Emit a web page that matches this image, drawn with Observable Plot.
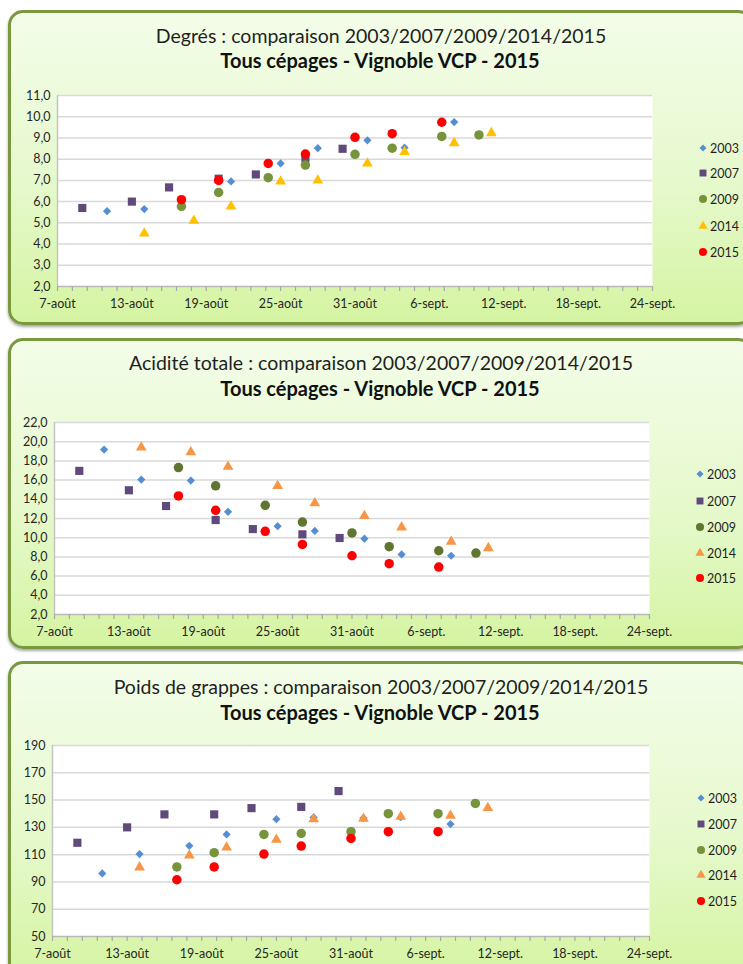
<!DOCTYPE html>
<html>
<head>
<meta charset="utf-8">
<script src="https://cdn.jsdelivr.net/npm/d3@7"></script>
<script src="https://cdn.jsdelivr.net/npm/@observablehq/plot@0.6"></script>
<style>
  html, body { margin: 0; padding: 0; }
  body { width: 743px; height: 964px; overflow: hidden; position: relative; background: #ffffff; font-family: Lato, "Open Sans", sans-serif; }
  .panel { position: absolute; left: 8px; width: 745px; box-sizing: border-box; border: 3px solid #7a983d; border-radius: 15px;
           background: linear-gradient(to bottom, #f3fde9 0%, #e6f9cc 55%, #d5f4a2 100%); box-shadow: 0 2px 3px rgba(0,0,0,0.35); }
  svg.abs { position: absolute; left: 0; }
</style>
</head>
<body>
<div class="panel" style="top:10px;height:315px"></div>
<div class="panel" style="top:338px;height:311px"></div>
<div class="panel" style="top:661px;height:320px"></div>
<script>
// ---------- data ----------
const years = ["2003", "2007", "2009", "2014", "2015"];

const dates2003 = ["08-11","08-14","08-18","08-21","08-25","08-28","09-01","09-04","09-08"];
const dates2007 = ["08-09","08-13","08-16","08-20","08-23","08-27","08-30"];
const dates2009 = ["08-17","08-20","08-24","08-27","08-31","09-03","09-07","09-10"];
const dates2014 = ["08-14","08-18","08-21","08-25","08-28","09-01","09-04","09-08","09-11"];
const dates2015 = ["08-17","08-20","08-24","08-27","08-31","09-03","09-07"];

// Degrés
const degres2003 = [5.55, 5.65, null, 6.95, 7.8, 8.52, 8.89, 8.54, 9.75];
const degres2007 = [5.7, 6.0, 6.67, 7.08, 7.28, 8.05, 8.49];
const degres2009 = [5.77, 6.43, 7.13, 7.72, 8.23, 8.52, 9.07, 9.14];
const degres2014 = [4.5, 5.1, 5.77, 6.95, 7.0, 7.8, 8.34, 8.76, 9.23];
const degres2015 = [6.09, 7.0, 7.8, 8.24, 9.03, 9.2, 9.74];

// Acidité totale
const acidite2003 = [19.18, 16.05, 15.95, 12.7, 11.2, 10.7, 9.9, 8.26, 8.12];
const acidite2007 = [16.96, 14.94, 13.3, 11.84, 10.9, 10.35, 9.97];
const acidite2009 = [17.3, 15.4, 13.37, 11.63, 10.5, 9.06, 8.64, 8.4];
const acidite2014 = [19.4, 18.9, 17.4, 15.4, 13.6, 12.26, 11.08, 9.58, 8.92];
const acidite2015 = [14.35, 12.85, 10.66, 9.3, 8.12, 7.29, 6.94];

// Poids de grappes
const poids2003 = [96.2, 110.4, 116.5, 124.8, 136, 137.3, 136.8, 137.5, 132.4];
const poids2007 = [118.7, 130, 139.5, 139.5, 144.1, 145, 156.6];
const poids2009 = [101, 111.4, 124.8, 125.5, 126.8, 140, 140, 147.5];
const poids2014 = [100.7, 109.4, 115.3, 121, 136, 136.3, 137.8, 138.6, 144.2];
const poids2015 = [91.6, 101, 110.4, 116.3, 121.9, 126.8, 126.8];

// tick labels
const xTickLabels = ["7-août","13-août","19-août","25-août","31-août","6-sept.","12-sept.","18-sept.","24-sept."];
const y1Ticks = [2,3,4,5,6,7,8,9,10,11];
const y1Labels = ["2,0","3,0","4,0","5,0","6,0","7,0","8,0","9,0","10,0","11,0"];
const y2Ticks = [2,4,6,8,10,12,14,16,18,20,22];
const y2Labels = ["2,0","4,0","6,0","8,0","10,0","12,0","14,0","16,0","18,0","20,0","22,0"];
const y3Ticks = [50,70,90,110,130,150,170,190];
const y3Labels = ["50","70","90","110","130","150","170","190"];

const title1 = "Degrés : comparaison 2003/2007/2009/2014/2015";
const title2 = "Acidité totale : comparaison 2003/2007/2009/2014/2015";
const title3 = "Poids de grappes : comparaison 2003/2007/2009/2014/2015";
const subtitle = "Tous cépages - Vignoble VCP - 2015";

// ---------- helpers ----------
const DAY = 86400000;
const xStart = new Date("2015-08-07T00:00:00Z");
const xEnd = new Date("2015-09-24T00:00:00Z");
const majorTicks = xTickLabels.map((_, i) => new Date(+xStart + i * 6 * DAY));
const minorTicks = d3.range(41).map(i => new Date(+xStart + i * 1.2 * DAY));
const xLabelMap = new Map(majorTicks.map((d, i) => [+d, xTickLabels[i]]));

const datesByYear = {"2003": dates2003, "2007": dates2007, "2009": dates2009, "2014": dates2014, "2015": dates2015};
function series(year, values) {
  return datesByYear[year].map((d, i) => ({date: new Date("2015-" + d + "T00:00:00Z"), value: values[i]}))
    .filter(p => p.value != null);
}

const symbols = {"2003": "diamond2", "2007": "square", "2009": "circle", "2014": "triangle", "2015": "circle"};
const radii = {"2003": 3.7, "2007": 4.6, "2009": 4.75, "2014": 4.0, "2015": 4.75};

function makeChart(cfg) {
  const yLabelMap = new Map(cfg.yTicks.map((d, i) => [d, cfg.yLabels[i]]));
  const ymin = cfg.yTicks[0], ymax = cfg.yTicks[cfg.yTicks.length - 1];
  const marks = [
    Plot.frame({fill: "white", stroke: null}),
    Plot.gridY(cfg.yTicks.slice(1), {stroke: "#d9d9d9", strokeOpacity: 1, strokeWidth: 1.5}),
    Plot.ruleX([xStart], {stroke: "#c4c4c4", strokeWidth: 1.5}),
    Plot.ruleY([ymin], {stroke: "#b8b8b8", strokeWidth: 1.5}),
    Plot.axisX(minorTicks, {tickSize: 5, tickFormat: () => "", stroke: "#a8a8a8", strokeWidth: 1.2}),
    Plot.axisX(majorTicks, {tickSize: 0, tickPadding: 13, tickFormat: d => xLabelMap.get(+d), fill: "#262626"}),
    Plot.axisY(cfg.yTicks, {tickSize: 0, tickPadding: 7, tickFormat: d => yLabelMap.get(d), fill: "#262626"})
  ];
  years.forEach(y => {
    marks.push(Plot.dot(series(y, cfg.values[y]), {
      x: "date", y: "value", symbol: symbols[y], r: radii[y], fill: cfg.colors[y], stroke: null
    }));
  });
  const svg = Plot.plot({
    width: 743, height: cfg.height,
    marginLeft: cfg.marginLeft, marginRight: 743 - cfg.plotRight,
    marginTop: cfg.marginTop, marginBottom: cfg.height - cfg.marginTop - cfg.plotH,
    style: {background: "transparent", fontFamily: "Lato, sans-serif", fontSize: "12.5px", color: "#262626", overflow: "visible"},
    x: {type: "utc", domain: [xStart, xEnd], label: null},
    y: {domain: [ymin, ymax], label: null},
    marks
  });
  svg.classList.add("abs");
  svg.style.top = cfg.top + "px";
  svg.style.position = "absolute";
  svg.style.left = "0px";
  document.body.appendChild(svg);
}

const c1 = {"2003": "#558ed5", "2007": "#604a7b", "2009": "#77933c", "2014": "#ffc000", "2015": "#ff0000"};
const c2 = {"2003": "#558ed5", "2007": "#604a7b", "2009": "#5f7530", "2014": "#f79646", "2015": "#ff0000"};
const c3 = {"2003": "#558ed5", "2007": "#604a7b", "2009": "#77933c", "2014": "#f79646", "2015": "#ff0000"};

makeChart({top: 75, height: 251, marginTop: 20, plotH: 191, marginLeft: 57, plotRight: 652,
  yTicks: y1Ticks, yLabels: y1Labels, colors: c1,
  values: {"2003": degres2003, "2007": degres2007, "2009": degres2009, "2014": degres2014, "2015": degres2015}});
makeChart({top: 401, height: 253, marginTop: 21, plotH: 192, marginLeft: 54, plotRight: 649,
  yTicks: y2Ticks, yLabels: y2Labels, colors: c2,
  values: {"2003": acidite2003, "2007": acidite2007, "2009": acidite2009, "2014": acidite2014, "2015": acidite2015}});
makeChart({top: 725, height: 241, marginTop: 20, plotH: 191, marginLeft: 52, plotRight: 649,
  yTicks: y3Ticks, yLabels: y3Labels, colors: c3,
  values: {"2003": poids2003, "2007": poids2007, "2009": poids2009, "2014": poids2014, "2015": poids2015}});

// ---------- titles and legends ----------
const overlay = d3.select("body").append("svg").attr("class", "abs")
  .attr("width", 743).attr("height", 964).style("top", "0px").style("position", "absolute")
  .style("pointer-events", "none").style("font-family", "Lato, sans-serif");

const titles = [
  {t: title1, y1: 43, y2: 68},
  {t: title2, y1: 370, y2: 396},
  {t: title3, y1: 694, y2: 720}
];
titles.forEach(d => {
  overlay.append("text").attr("x", 381).attr("y", d.y1).attr("text-anchor", "middle")
    .attr("font-size", 19.5).attr("fill", "#1f1f1f").text(d.t);
  overlay.append("text").attr("x", 380).attr("y", d.y2).attr("text-anchor", "middle")
    .attr("font-size", 20).attr("font-weight", "bold").attr("fill", "#111").text(subtitle);
});

const legends = [
  {sx: 703, colors: c1, ys: [148, 173, 199, 226, 252]},
  {sx: 700, colors: c2, ys: [474, 501, 527, 553, 578]},
  {sx: 701, colors: c3, ys: [798, 824, 850, 875, 901]}
];
const d3sym = {"diamond2": d3.symbolDiamond2, "square": d3.symbolSquare, "circle": d3.symbolCircle, "triangle": d3.symbolTriangle};
legends.forEach(L => {
  years.forEach((y, i) => {
    const r = radii[y] * 0.85;
    overlay.append("path")
      .attr("d", d3.symbol(d3sym[symbols[y]], Math.PI * r * r)())
      .attr("transform", `translate(${L.sx},${L.ys[i]})`)
      .attr("fill", L.colors[y]);
    overlay.append("text").attr("x", L.sx + 7).attr("y", L.ys[i]).attr("dy", "0.36em")
      .attr("font-size", 12.5).attr("fill", "#1f1f1f").text(y);
  });
});
</script>
</body>
</html>
